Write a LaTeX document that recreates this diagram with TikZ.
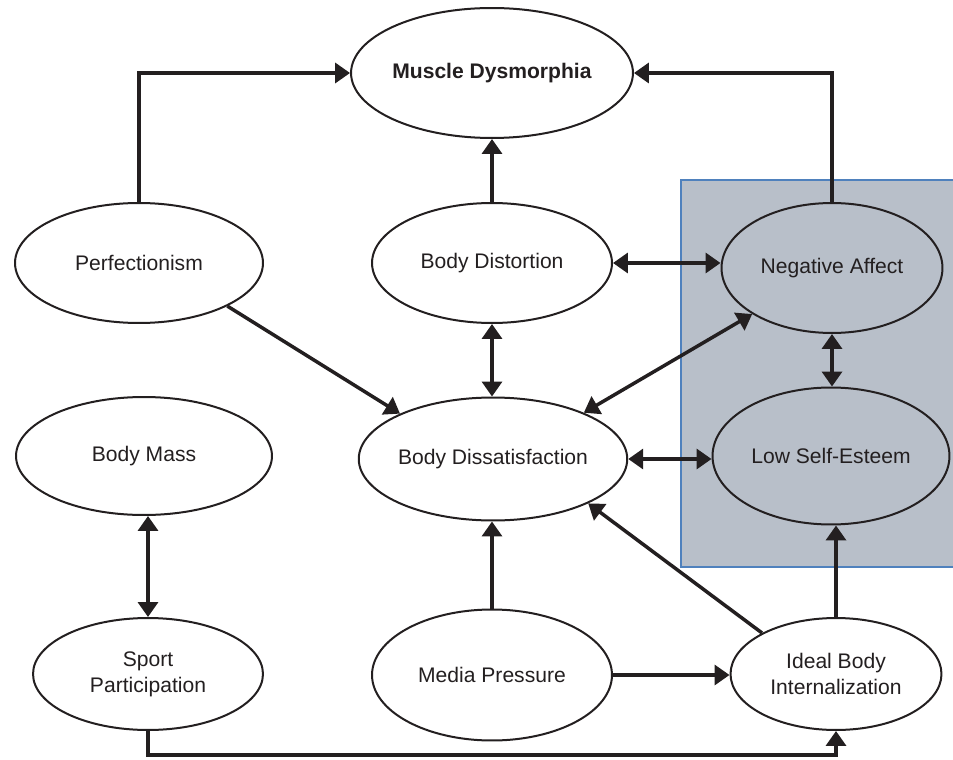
\documentclass[tikz,border=0pt]{standalone}
\usepackage{fontspec}
\setmainfont{Liberation Sans}
\usetikzlibrary{shapes.geometric,arrows.meta}
\definecolor{ink}{HTML}{231F20}
\definecolor{panel}{HTML}{B8BFC9}
\definecolor{paneledge}{HTML}{4F81BD}
\tikzset{
  oval/.style={ellipse, draw=ink, line width=0.04cm, inner sep=0pt,
    text=ink, align=center, font=\fontsize{12}{15}\selectfont},
  link/.style={draw=ink, line width=0.07cm,
    -{Triangle[length=0.3cm,width=0.4cm]}},
  both/.style={draw=ink, line width=0.07cm,
    {Triangle[length=0.3cm,width=0.4cm]}-{Triangle[length=0.3cm,width=0.4cm]}}
}
\begin{document}
\begin{tikzpicture}[x=0.02cm,y=-0.02cm]
\useasboundingbox (0,0) rectangle (953,760);

% shaded panel behind the two affect variables
\fill[panel] (681,180) rectangle (953,567);
\draw[paneledge, line width=0.025cm] (953,180) -- (681,180) -- (681,567) -- (953,567);

% variables
\node[oval, minimum width=5.58cm, minimum height=2.6cm] (md) at (492,73)
  {\textbf{Muscle Dysmorphia}};
\node[oval, minimum width=4.96cm, minimum height=2.4cm] (perf) at (139,263)
  {Perfectionism};
\node[oval, minimum width=4.8cm, minimum height=2.4cm] (bdist) at (492,263)
  {\raisebox{3pt}{Body Distortion}};
\node[oval, minimum width=4.42cm, minimum height=2.6cm] (na) at (832,268)
  {Negative Affect};
\node[oval, minimum width=5.12cm, minimum height=2.36cm] (bm) at (144,456)
  {Body Mass};
\node[oval, minimum width=5.14cm, minimum height=2.46cm] (bdis) at (493,459)
  {Body Dissatisfaction};
\node[oval, minimum width=4.74cm, minimum height=2.74cm] (lse) at (831,456)
  {Low Self-Esteem};
\node[oval, minimum width=4.6cm, minimum height=2.24cm] (sport) at (148,674)
  {Sport\\Participation};
\node[oval, minimum width=4.8cm, minimum height=2.62cm] (media) at (492,675)
  {Media Pressure};
\node[oval, minimum width=4.22cm, minimum height=2.24cm] (ideal) at (836,674)
  {Ideal Body\\Internalization};

% paths into Muscle Dysmorphia
\draw[link] (perf.north) |- (md.west);
\draw[link] (na.north) |- (md.east);
\draw[link] (bdist.north) -- (md.south);

% upper layer links
\draw[both] (bdist.east) -- (na.west |- bdist.east);
\draw[both] (bdist.south) -- (bdis.north -| bdist.south);
\draw[link] (perf.-26) -- (bdis.154);
\draw[both] (na.210) -- (bdis.27);
\draw[both] (na.south) -- (lse.north -| na.south);
\draw[both] (bdis.east) -- (lse.west |- bdis.east);

% lower layer links
\draw[both] (bm.south -| sport.north) -- (sport.north);
\draw[link] (media.north) -- (media.north |- bdis.south);
\draw[link] (media.east) -- (ideal.west |- media.east);
\draw[link] (ideal.151) -- (bdis.-25);
\draw[link] (ideal.north) -- (ideal.north |- lse.south);
\coordinate (floor) at (0,755);
\draw[link] (sport.south) -- (sport.south |- floor) -| (ideal.south);
\end{tikzpicture}
\end{document}
